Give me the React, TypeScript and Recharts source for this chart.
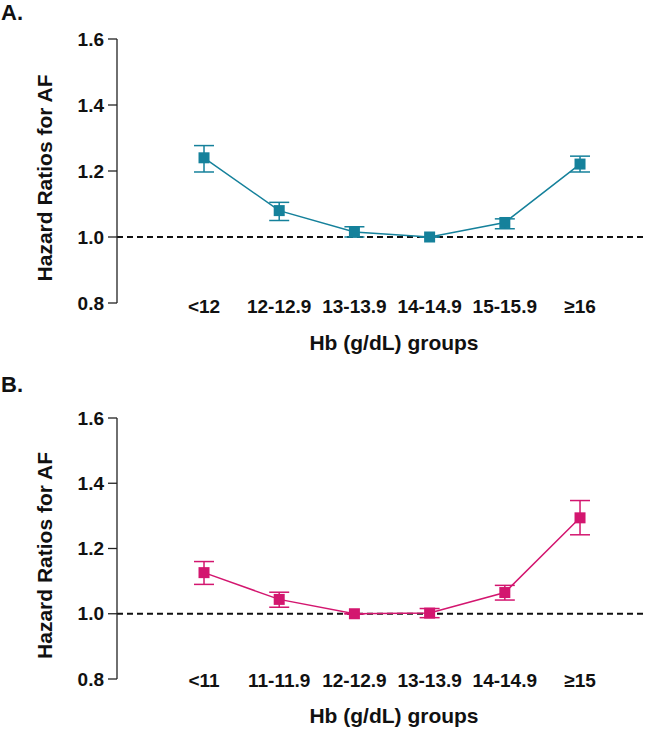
import React from 'react';
import {
  ComposedChart,
  Line,
  XAxis,
  YAxis,
  ErrorBar,
  ReferenceLine,
  Label,
} from 'recharts';

// Panel A groups and hazard ratios with 95% CI
const groupsA = ['<12', '12-12.9', '13-13.9', '14-14.9', '15-15.9', '≥16'];
const hrA = [1.24, 1.08, 1.015, 1.0, 1.044, 1.221];
const lowA = [1.197, 1.05, 1.0, 1.0, 1.025, 1.197];
const highA = [1.277, 1.105, 1.031, 1.0, 1.055, 1.245];

// Panel B groups and hazard ratios with 95% CI
const groupsB = ['<11', '11-11.9', '12-12.9', '13-13.9', '14-14.9', '≥15'];
const hrB = [1.126, 1.044, 1.0, 1.002, 1.065, 1.294];
const lowB = [1.09, 1.02, 1.0, 0.988, 1.042, 1.242];
const highB = [1.16, 1.066, 1.0, 1.016, 1.087, 1.347];

const yTicks = [0.8, 1.0, 1.2, 1.4, 1.6];
const xTicks = [0, 1, 2, 3, 4, 5];

const FONT = '"Liberation Sans", Arial, sans-serif';
const AXIS = '#222';

const buildRows = (groups: string[], hr: number[], low: number[], high: number[]) =>
  groups.map((g, i) => ({ idx: i, group: g, hr: hr[i], err: [hr[i] - low[i], high[i] - hr[i]] }));

interface PanelProps {
  top: number;
  height: number;
  marginTop: number;
  xAxisHeight: number;
  tickDy: number;
  labelDy: number;
  color: string;
  groups: string[];
  rows: { idx: number; group: string; hr: number; err: number[] }[];
  letter: string;
  letterTop: number;
}

const Panel: React.FC<PanelProps> = ({
  top, height, marginTop, xAxisHeight, tickDy, labelDy, color, groups, rows, letter, letterTop,
}) => {
  const renderDot = (p: any) => (
    <rect key={`dot-${p.index}`} x={p.cx - 5.5} y={p.cy - 5.5} width={11} height={11} fill={color} />
  );

  const renderXTick = (p: any) => (
    <text
      key={`xt-${p.index}`}
      x={p.x}
      y={p.y + tickDy}
      textAnchor="middle"
      fontFamily={FONT}
      fontWeight="bold"
      fontSize={19}
      fill="#111"
    >
      {groups[p.payload.value]}
    </text>
  );

  return (
    <div style={{ position: 'absolute', left: 0, top, width: 646, height }}>
      <div
        style={{
          position: 'absolute',
          left: 1,
          top: letterTop,
          fontFamily: FONT,
          fontWeight: 'bold',
          fontSize: 22,
          lineHeight: 'normal',
          color: '#111',
        }}
      >
        {letter}
      </div>
      <ComposedChart
        width={646}
        height={height}
        data={rows}
        margin={{ top: marginTop, right: 1, bottom: 0, left: 0 }}
      >
        <XAxis
          dataKey="idx"
          type="number"
          domain={[-1.157, 5.864]}
          ticks={xTicks}
          allowDataOverflow
          height={xAxisHeight}
          axisLine={false}
          tickLine={false}
          tickSize={0}
          tickMargin={0}
          interval={0}
          tick={renderXTick}
        >
          <Label
            content={(props: any) => {
              const vb = props.viewBox;
              return (
                <text
                  x={vb.x + 277}
                  y={vb.y + labelDy}
                  textAnchor="middle"
                  fontFamily={FONT}
                  fontWeight="bold"
                  fontSize={21}
                  fill="#111"
                >
                  Hb (g/dL) groups
                </text>
              );
            }}
          />
        </XAxis>
        <YAxis
          type="number"
          domain={[0.8, 1.6]}
          ticks={yTicks}
          width={117}
          tickSize={9}
          tickMargin={4}
          stroke={AXIS}
          strokeWidth={1.3}
          tickFormatter={(v: number) => v.toFixed(1)}
          tick={{ fill: '#111', fontSize: 19, fontWeight: 'bold', fontFamily: FONT }}
        >
          <Label
            content={(props: any) => {
              const vb = props.viewBox;
              const cx = vb.x + 52;
              const cy = vb.y + vb.height / 2 + 7;
              return (
                <text
                  x={cx}
                  y={cy}
                  transform={`rotate(-90 ${cx} ${cy})`}
                  textAnchor="middle"
                  fontFamily={FONT}
                  fontWeight="bold"
                  fontSize={21}
                  fill="#111"
                >
                  Hazard Ratios for AF
                </text>
              );
            }}
          />
        </YAxis>
        <ReferenceLine y={1} stroke="#111" strokeWidth={1.8} strokeDasharray="6 4" />
        <Line
          dataKey="hr"
          stroke={color}
          strokeWidth={1.5}
          dot={renderDot}
          activeDot={false}
          isAnimationActive={false}
        >
          <ErrorBar dataKey="err" width={10} stroke={color} strokeWidth={1.5} direction="y" />
        </Line>
      </ComposedChart>
    </div>
  );
};

const App: React.FC = () => {
  const rowsA = buildRows(groupsA, hrA, lowA, highA);
  const rowsB = buildRows(groupsB, hrB, lowB, highB);

  return (
    <div style={{ position: 'absolute', left: 0, top: 0, width: 646, height: 731, background: '#fff' }}>
      <Panel
        top={0}
        height={365}
        marginTop={39}
        xAxisHeight={62}
        tickDy={10}
        labelDy={47}
        color="#15819b"
        groups={groupsA}
        rows={rowsA}
        letter="A."
        letterTop={0}
      />
      <Panel
        top={365}
        height={366}
        marginTop={53}
        xAxisHeight={52}
        tickDy={8}
        labelDy={44}
        color="#d3166f"
        groups={groupsB}
        rows={rowsB}
        letter="B."
        letterTop={7}
      />
    </div>
  );
};

export default App;
